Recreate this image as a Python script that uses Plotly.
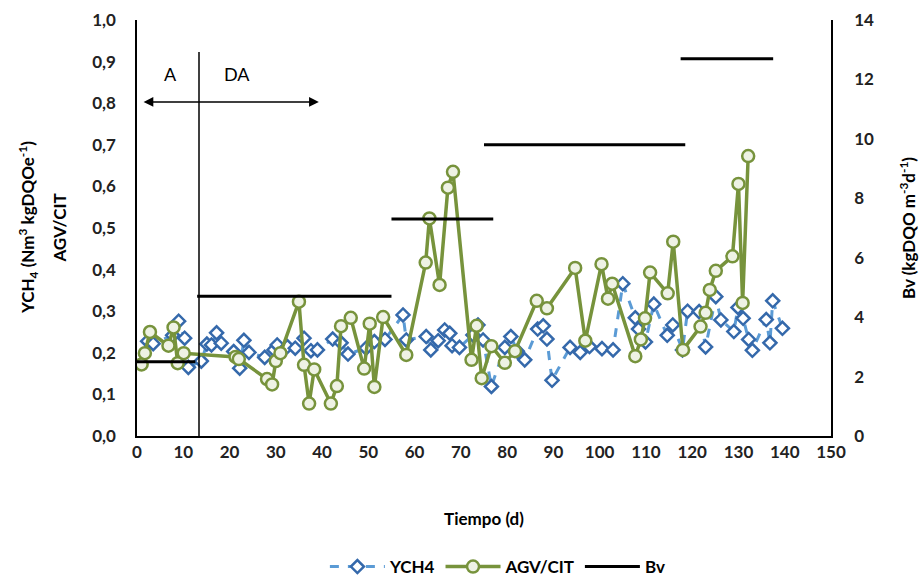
import plotly.graph_objects as go

# YCH4 series (days, Nm3/kgDQOe)
ych4_day = [2.3, 3.5, 7.7, 9.0, 10.3, 11.1, 13.9, 15.1, 16.1, 17.2, 18.2, 20.9, 22.2, 23.1, 24.2,
            27.6, 29.6, 30.3, 32.5, 34.2, 36.1, 37.6, 39.0, 42.3, 44.1, 45.6, 49.5, 51.3, 53.6,
            57.5, 58.2, 62.5, 63.5, 65.1, 66.5, 67.6, 68.1, 69.7, 72.6, 73.7, 74.8, 76.6,
            79.5, 80.8, 82.2, 83.8, 86.6, 87.8, 88.6, 89.7, 93.6, 95.8, 97.8, 100.5, 102.9,
            105.0, 107.7, 108.4, 109.9, 111.7, 114.6, 115.8, 117.9, 119.0, 121.5, 122.9,
            125.1, 126.2, 129.0, 129.9, 131.0, 132.2, 133.0, 136.0, 136.8, 137.4, 139.5]
ych4_val = [0.228, 0.222, 0.242, 0.276, 0.235, 0.165, 0.180, 0.221, 0.219, 0.248, 0.223, 0.203, 0.163, 0.230, 0.201,
            0.189, 0.207, 0.219, 0.215, 0.211, 0.235, 0.205, 0.207, 0.233, 0.224, 0.197, 0.211, 0.227, 0.232,
            0.291, 0.231, 0.239, 0.207, 0.229, 0.255, 0.247, 0.217, 0.213, 0.243, 0.267, 0.231, 0.119,
            0.213, 0.239, 0.204, 0.183, 0.257, 0.265, 0.233, 0.134, 0.213, 0.201, 0.215, 0.210, 0.207,
            0.366, 0.284, 0.257, 0.226, 0.317, 0.242, 0.267, 0.207, 0.300, 0.299, 0.214,
            0.335, 0.279, 0.251, 0.309, 0.283, 0.232, 0.206, 0.280, 0.224, 0.325, 0.259]

# AGV/CIT series
agv_day = [1.0, 1.7, 2.8, 6.8, 7.9, 8.8, 10.1, 21.3, 22.0, 28.1, 29.2, 30.0, 31.0, 35.0, 36.1, 37.2,
           38.3, 41.9, 43.2, 44.1, 46.2, 49.1, 50.3, 51.3, 53.2, 58.2, 62.4, 63.2, 65.4, 67.2, 68.3,
           72.3, 73.4, 74.5, 76.6, 79.5, 81.7, 86.4, 88.6, 94.7, 96.9, 100.4, 101.8, 102.7, 107.7,
           108.9, 109.8, 110.9, 114.7, 115.9, 118.0, 121.8, 122.9, 123.8, 125.1, 128.7, 130.0,
           130.9, 132.1]
agv_val = [0.172, 0.199, 0.250, 0.217, 0.261, 0.175, 0.199, 0.190, 0.185, 0.137, 0.124, 0.180, 0.199, 0.323, 0.171, 0.078,
           0.160, 0.078, 0.120, 0.264, 0.284, 0.162, 0.270, 0.118, 0.286, 0.195, 0.417, 0.523, 0.363, 0.597, 0.635,
           0.183, 0.265, 0.139, 0.216, 0.176, 0.204, 0.325, 0.307, 0.404, 0.229, 0.413, 0.330, 0.366, 0.192,
           0.232, 0.283, 0.393, 0.343, 0.467, 0.207, 0.263, 0.296, 0.351, 0.397, 0.432, 0.606,
           0.320, 0.673]

# Bv steps (kgDQO m-3 d-1)
bv_start = [0, 13, 55, 75, 117.5]
bv_end = [12.6, 55, 77, 118.5, 137.5]
bv_val = [2.5, 4.7, 7.3, 9.8, 12.7]

# phase annotations
phase_split = 13.4
arrow_from, arrow_to, arrow_y = 1.1, 39.3, 0.803

bv_x, bv_y = [], []
for s, e, v in zip(bv_start, bv_end, bv_val):
    bv_x += [s, e, None]
    bv_y += [v, v, None]

FONT = "Lato"
fig = go.Figure()
fig.add_trace(go.Scatter(
    x=ych4_day, y=ych4_val, name="YCH4", mode="lines+markers",
    line=dict(color="#5b9bd5", width=3, dash="dash"),
    marker=dict(symbol="diamond", size=10, color="white",
                line=dict(color="#3569ab", width=2.5)),
))
fig.add_trace(go.Scatter(
    x=agv_day, y=agv_val, name="AGV/CIT", mode="lines+markers",
    line=dict(color="#77933c", width=3.5),
    marker=dict(symbol="circle", size=12, color="#eef2e4",
                line=dict(color="#77933c", width=2.5)),
))
fig.add_trace(go.Scatter(
    x=bv_x, y=bv_y, name="Bv", mode="lines", yaxis="y2",
    line=dict(color="black", width=3),
))

fig.add_shape(type="line", x0=phase_split, x1=phase_split, y0=0, y1=0.923,
              xref="x", yref="y", line=dict(color="black", width=1.5))
fig.add_annotation(x=arrow_to, y=arrow_y, ax=arrow_from, ay=arrow_y, xref="x", yref="y",
                   axref="x", ayref="y", text="", showarrow=True, arrowhead=2,
                   arrowside="end+start", arrowsize=1.3, arrowwidth=1.5, arrowcolor="black")
fig.add_annotation(x=7.3, y=0.870, text="A", showarrow=False, xref="x", yref="y",
                   font=dict(family=FONT, size=18, color="black"))
fig.add_annotation(x=21.7, y=0.870, text="DA", showarrow=False, xref="x", yref="y",
                   font=dict(family=FONT, size=18, color="black"))

titlefont = dict(family=FONT, size=17, color="black", weight="bold")
# left axis title, two lines
fig.add_annotation(x=-0.157, y=0.5, xref="paper", yref="paper", textangle=-90,
                   text="YCH<sub>4</sub> (Nm<sup>3</sup> kgDQOe<sup>-1</sup>)", showarrow=False,
                   xanchor="center", yanchor="middle", font=titlefont)
fig.add_annotation(x=-0.113, y=0.5, xref="paper", yref="paper", textangle=-90,
                   text="AGV/CIT", showarrow=False,
                   xanchor="center", yanchor="middle", font=titlefont)

tickfont = dict(family=FONT, size=17, color="#222222", weight="bold")
fig.update_layout(
    width=924, height=580,
    margin=dict(l=137, r=93, t=20, b=144, autoexpand=False),
    paper_bgcolor="white", plot_bgcolor="white",
    separators=",.",
    font=dict(family=FONT, color="black"),
    showlegend=True,
    legend=dict(orientation="h", x=0.52, xanchor="center", y=-0.315, yanchor="middle",
                font=dict(family=FONT, size=17, color="black", weight="bold"),
                itemwidth=55, tracegroupgap=0),
    xaxis=dict(range=[0, 150], dtick=10, tick0=0, showgrid=False, zeroline=False,
               showline=True, linecolor="black", linewidth=2, ticks="", automargin=False,
               tickfont=tickfont,
               title=dict(text="Tiempo (d)", standoff=52, font=titlefont)),
    yaxis=dict(range=[0, 1.0], dtick=0.1, tick0=0, tickformat=".1f", showgrid=False,
               zeroline=False, showline=True, linecolor="black", linewidth=1.5, ticks="",
               automargin=False, ticklabelstandoff=16, tickfont=tickfont),
    yaxis2=dict(range=[0, 14], dtick=2, tick0=0, overlaying="y", side="right", showgrid=False,
                zeroline=False, showline=True, linecolor="black", linewidth=1.5, ticks="",
                automargin=False, ticklabelstandoff=18, tickfont=tickfont,
                title=dict(text="Bv (kgDQO m<sup>-3</sup>d<sup>-1</sup>)", standoff=30,
                           font=titlefont)),
)

fig.write_html("out.html")
